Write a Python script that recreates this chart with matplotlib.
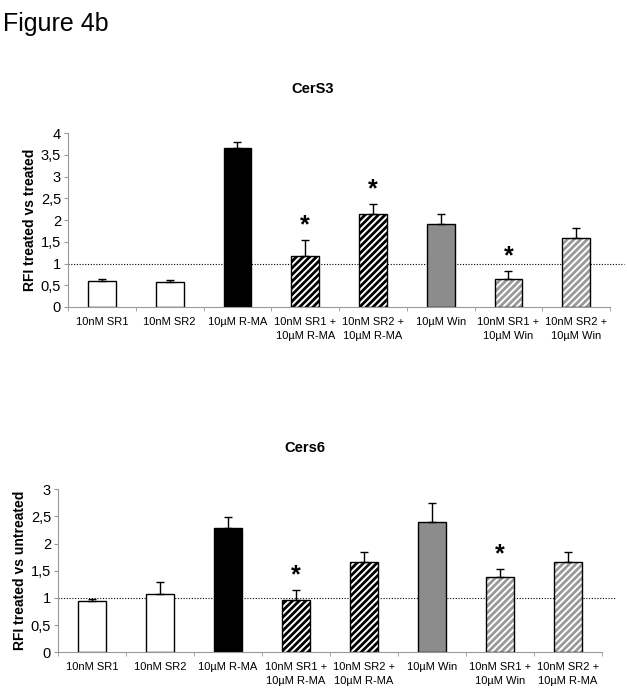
import matplotlib
matplotlib.use("Agg")
import matplotlib.pyplot as plt
import numpy as np

plt.rcParams['font.family'] = ['Liberation Sans', 'DejaVu Sans']
plt.rcParams['hatch.linewidth'] = 2.0

labels_top = ["10nM SR1", "10nM SR2", "10µM R-MA", "10nM SR1 +\n10µM R-MA", "10nM SR2 +\n10µM R-MA",
              "10µM Win", "10nM SR1 +\n10µM Win", "10nM SR2 +\n10µM Win"]
labels_bot = ["10nM SR1", "10nM SR2", "10µM R-MA", "10nM SR1 +\n10µM R-MA", "10nM SR2 +\n10µM R-MA",
              "10µM Win", "10nM SR1 +\n10µM Win", "10nM SR2 +\n10µM R-MA"]

cers3_vals = [0.60, 0.57, 3.65, 1.17, 2.13, 1.91, 0.64, 1.59]
cers3_err = [0.05, 0.04, 0.14, 0.36, 0.24, 0.22, 0.18, 0.22]
cers3_star = [False, False, False, True, True, False, True, False]

cers6_vals = [0.94, 1.08, 2.29, 0.97, 1.66, 2.40, 1.38, 1.66]
cers6_err = [0.05, 0.22, 0.20, 0.17, 0.19, 0.35, 0.15, 0.19]
cers6_star = [False, False, False, True, False, False, True, False]

# styles: (face, hatch, hatchcolor)
styles = [("white", None, None), ("white", None, None), ("black", None, None),
          ("white", "/////", "black"), ("white", "/////", "black"),
          ("#8c8c8c", None, None), ("white", "/////", "#999999"), ("white", "/////", "#999999")]

fig = plt.figure(figsize=(6.27, 6.93), dpi=100)
fig.text(0.005, 0.982, "Figure 4b", fontsize=18, ha="left", va="top")

def draw(ax, vals, errs, stars, labels, ylabel, ymax, yticks, yticklabels):
    x = np.arange(len(vals))
    w = 0.41
    for i, (v, e, s) in enumerate(zip(vals, errs, stars)):
        face, hatch, hc = styles[i]
        if hatch:
            ax.bar(x[i], v, w, color=face, edgecolor=hc, hatch=hatch, linewidth=0, zorder=2)
            ax.bar(x[i], v, w, fill=False, edgecolor="black", linewidth=1.0, zorder=3)
        else:
            ax.bar(x[i], v, w, color=face, edgecolor="black", linewidth=1.0, zorder=2)
        ax.errorbar(x[i], v, yerr=[[0], [e]], color="black", capsize=3, elinewidth=1, capthick=1, zorder=4)
        if s:
            ax.text(x[i], v + e + 0.07 * ymax / 4, "*", ha="center", va="bottom", fontsize=18,
                    fontweight="bold", zorder=5)
    ax.set_xlim(-0.5, len(vals) - 0.5)
    ax.set_ylim(0, ymax)
    ax.set_yticks(yticks)
    ax.set_yticklabels(yticklabels, fontsize=10.5)
    ax.set_xticks(x)
    ax.set_xticklabels(labels, fontsize=8, linespacing=1.55)
    ax.set_xticks(np.arange(len(vals) + 1) - 0.5, minor=True)
    ax.tick_params(axis="x", which="major", length=0, pad=7)
    ax.tick_params(axis="x", which="minor", length=3, color="#999999")
    ax.tick_params(axis="y", length=3, color="#999999", pad=2)
    for sp in ["top", "right"]:
        ax.spines[sp].set_visible(False)
    for sp in ["left", "bottom"]:
        ax.spines[sp].set_color("#999999")
    ax.axhline(1.0, xmin=0, xmax=1.025, color="black", linestyle=(0, (1, 1.5)), linewidth=0.8,
               clip_on=False, zorder=1)
    ax.set_ylabel(ylabel, fontsize=10, fontweight="bold", labelpad=3)

ax1 = fig.add_axes([0.1085, 0.557, 0.8645, 0.251])
draw(ax1, cers3_vals, cers3_err, cers3_star, labels_top, "RFI treated vs treated", 4,
     [0, 0.5, 1, 1.5, 2, 2.5, 3, 3.5, 4], ["0", "0,5", "1", "1,5", "2", "2,5", "3", "3,5", "4"])
fig.text(313 / 627, 1 - 89 / 693, "CerS3", fontsize=10.5, fontweight="bold", ha="center", va="center")

ax2 = fig.add_axes([0.0925, 0.0587, 0.8675, 0.2353])
draw(ax2, cers6_vals, cers6_err, cers6_star, labels_bot, "RFI treated vs untreated", 3,
     [0, 0.5, 1, 1.5, 2, 2.5, 3], ["0", "0,5", "1", "1,5", "2", "2,5", "3"])
fig.text(305 / 627, 1 - 448 / 693, "Cers6", fontsize=10.5, fontweight="bold", ha="center", va="center")

fig.savefig("out.png", dpi=100)
